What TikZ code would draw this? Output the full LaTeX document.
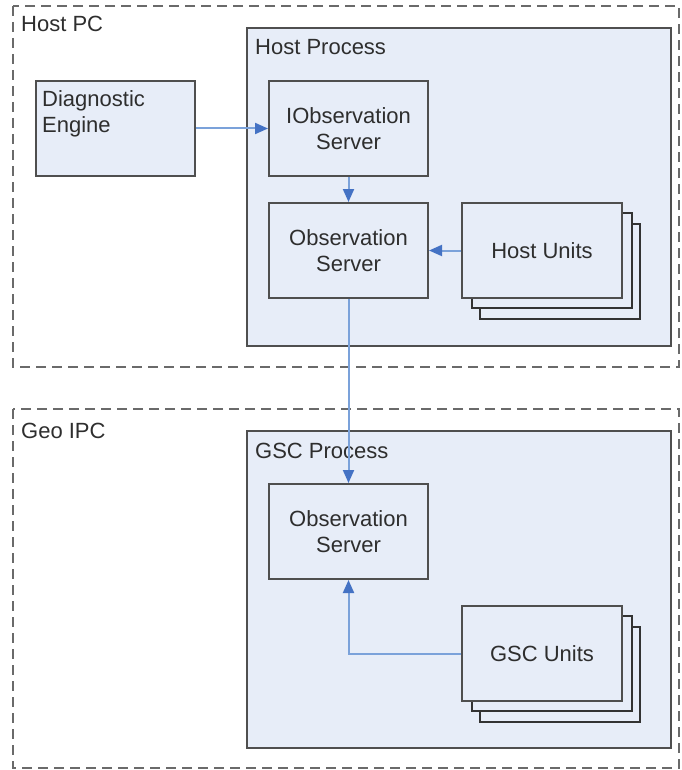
\documentclass[tikz,border=0pt]{standalone}
\usepackage{fontspec}
\setmainfont{Liberation Sans}
\usetikzlibrary{arrows.meta,positioning}
\definecolor{boxfill}{HTML}{E7EDF8}
\definecolor{boxline}{HTML}{4F4F4F}
\definecolor{dashline}{HTML}{6A6A6A}
\definecolor{linkline}{HTML}{7BA2DA}
\definecolor{linkhead}{HTML}{4472C4}
\begin{document}
\begin{tikzpicture}[x=1pt,y=-1pt,
  every node/.style={font=\fontsize{22}{26}\selectfont, text=black!82},
  machine/.style={draw=dashline, line width=2pt, dash pattern=on 10pt off 6pt},
  process/.style={draw=boxline, fill=boxfill, line width=2pt},
  comp/.style={draw=boxline, fill=boxfill, line width=2pt, anchor=north west,
               minimum width=159pt, minimum height=95pt, inner sep=0pt, align=center},
  stackback/.style={draw=black!80, fill=boxfill, line width=2pt},
  link/.style={draw=linkline, line width=2pt,
               -{Triangle[length=13pt,width=11pt,fill=linkhead,color=linkhead]}},
  caption/.style={anchor=base west, inner sep=0pt}
]
\useasboundingbox (0,0) rectangle (681,770);

% machines
\draw[machine] (13,6) rectangle (679,367);
\node[caption] (hostpc) at (21,32) {Host PC};
\draw[machine] (13,409) rectangle (679,768);
\node[caption] (geoipc) at (21,438) {Geo IPC};

% processes
\draw[process] (247,28) rectangle (671,346);
\node[caption] (hostproc) at (255,55) {Host Process};
\draw[process] (247,431) rectangle (671,748);
\node[caption] (gscproc) at (255,458) {GSC Process};

% host components
\node[comp] (diag) at (35,80) {};
\node[anchor=north west, inner sep=0pt, align=left] (diagtext) at ([xshift=7pt,yshift=-10pt]diag.north west) {Diagnostic\\Engine};
\node[comp] (iobs) at (268,80) {IObservation\\Server};
\node[comp] (hobs) at (268,202) {Observation\\Server};

% host units stack
\draw[stackback] (480,224) rectangle (640,319);
\draw[stackback] (472,213) rectangle (632,308);
\node[comp, minimum width=160pt] (hunits) at (461,202) {Host Units};

% GSC components
\node[comp] (gobs) at (268,483) {Observation\\Server};
\draw[stackback] (480,627) rectangle (640,722);
\draw[stackback] (472,616) rectangle (632,711);
\node[comp, minimum width=160pt] (gunits) at (461,605) {GSC Units};

% connections
\draw[link] (diag.east) -- (iobs.west);
\draw[link] (iobs.south) -- (hobs.north);
\draw[link] (hunits.west) -- (hobs.east);
\draw[link] (hobs.south) -- (gobs.north);
\draw[link] (gunits.west) -| (gobs.south);
\end{tikzpicture}
\end{document}
